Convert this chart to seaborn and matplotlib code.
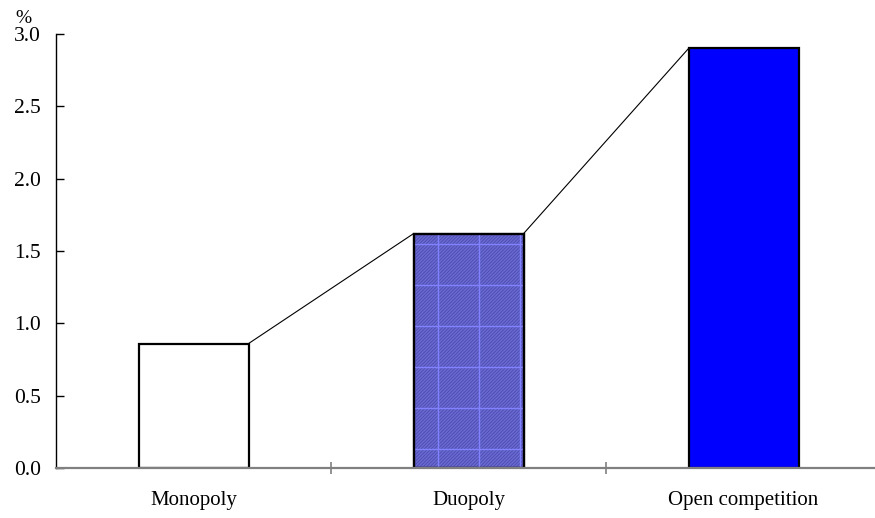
import numpy as np
import pandas as pd
import matplotlib
matplotlib.use("Agg")
import matplotlib.pyplot as plt
import seaborn as sns

categories = ["Monopoly", "Duopoly", "Open competition"]
values = [0.86, 1.62, 2.90]
colors = ["#ffffff", "#6a6ad2", "#0000ff"]
yticks = [0.0, 0.5, 1.0, 1.5, 2.0, 2.5, 3.0]

sns.set_style("white")
plt.rcParams["font.family"] = ["Liberation Serif", "DejaVu Serif"]
plt.rcParams["hatch.linewidth"] = 0.6
plt.rcParams["text.color"] = "black"
plt.rcParams["xtick.color"] = "black"
plt.rcParams["ytick.color"] = "black"

df = pd.DataFrame({"market": categories, "pct": values})

fig = plt.figure(figsize=(8.75, 5.18), dpi=100)
ax = fig.add_axes([0.064, 0.0965, 0.943, 0.838])

sns.barplot(data=df, x="market", y="pct", hue="market", palette=colors,
            width=0.4, legend=False, ax=ax, saturation=1)

for i, p in enumerate(ax.patches):
    p.set_edgecolor("black")
    p.set_linewidth(1.6)
    if i == 1:
        z = p.get_zorder()
        # fine diagonal texture
        ax.bar(i, values[i], width=0.4, facecolor="none", edgecolor="#4a4aae",
               hatch="//////////", linewidth=0, zorder=z + 0.1)
        # light grid inside the duopoly bar
        for gx in np.arange(i - 0.2 + 0.09, i + 0.2, 0.149):
            ln = ax.axvline(gx, color="#8282ff", linewidth=1.0, zorder=z + 0.2)
            ln.set_clip_path(p)
        for gy in np.arange(0.13, values[i], 0.284):
            ln = ax.axhline(gy, color="#8282ff", linewidth=1.0, zorder=z + 0.2)
            ln.set_clip_path(p)
        ax.bar(i, values[i], width=0.4, facecolor="none", edgecolor="black",
               linewidth=1.6, zorder=z + 0.3)

# connecting lines between bar tops
xs = []
ys = []
for i, v in enumerate(values):
    xs += [i - 0.2, i + 0.2]
    ys += [v, v]
ax.plot(xs[1:-1], ys[1:-1], color="black", linewidth=0.8, zorder=0)

ax.set_xlim(-0.5, 2.5)
ax.set_ylim(0, 3.0)
ax.set_yticks(yticks)
ax.set_yticklabels([f"{t:.1f}" for t in yticks])
ax.set_xticks([0.5, 1.5], minor=True)
ax.tick_params(axis="x", which="major", bottom=False, labelsize=15, pad=13)
ax.tick_params(axis="x", which="minor", bottom=True, direction="inout",
               length=8, color="#808080", width=1.2)
ax.tick_params(axis="y", left=True, direction="in", length=6, width=1.0,
               labelsize=15.5, pad=11)
ax.set_xlabel("")
ax.set_ylabel("")

for s in ["top", "right"]:
    ax.spines[s].set_visible(False)
ax.spines["left"].set_color("black")
ax.spines["left"].set_linewidth(1.0)
ax.spines["bottom"].set_color("#808080")
ax.spines["bottom"].set_linewidth(1.6)
ax.spines["left"].set_bounds(0, 3.0)

fig.text(0.027, 0.947, "%", fontsize=14, ha="center", va="bottom")

fig.savefig("out.png", dpi=100)
